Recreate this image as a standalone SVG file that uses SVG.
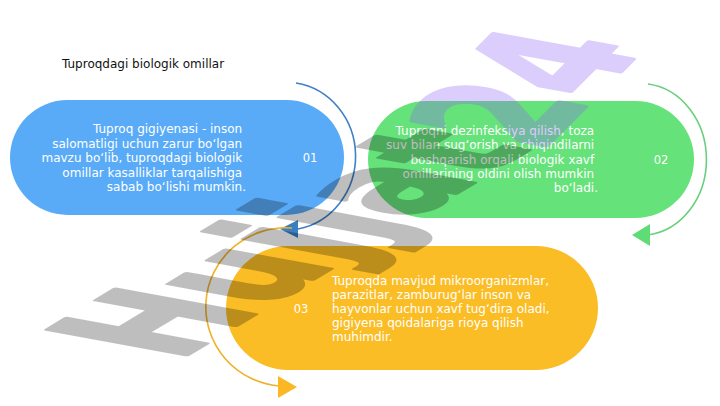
<svg xmlns="http://www.w3.org/2000/svg" width="720" height="406" viewBox="0 0 720 406">
  <defs>
    <style>
      .title { font-family: "DejaVu Sans", sans-serif; font-size: 12px; fill: #111111; }
      .body { font-family: "DejaVu Sans", sans-serif; font-size: 12px; fill: #ffffff; }
      .num { font-family: "DejaVu Sans", sans-serif; font-size: 11.5px; fill: #ffffff; text-anchor: middle; }
      .arc { fill: none; stroke-width: 1.6; }
      .wm { font-family: "DejaVu Sans", sans-serif; font-weight: bold; font-size: 100px; stroke-width: 3; stroke-linejoin: round; }
    </style>
  </defs>
  <rect width="720" height="406" fill="#ffffff"/>

  <g id="title">
    <text class="title" x="62" y="68">Tuproqdagi biologik omillar</text>
  </g>

  <g id="node-01">
    <rect x="10" y="100" width="334" height="115" rx="57.5" fill="#59abf7"/>
    <text class="body" text-anchor="end">
      <tspan x="246" y="133">Tuproq gigiyenasi - inson</tspan>
      <tspan x="246" y="147.5">salomatligi uchun zarur bo‘lgan</tspan>
      <tspan x="246" y="162">mavzu bo‘lib, tuproqdagi biologik</tspan>
      <tspan x="246" y="176.5">omillar kasalliklar tarqalishiga</tspan>
      <tspan x="246" y="191">sabab bo‘lishi mumkin.</tspan>
    </text>
    <text class="num" x="310" y="162">01</text>
  </g>

  <g id="node-02">
    <rect x="368" y="101" width="326" height="117" rx="58.5" fill="#66e27a"/>
    <text class="body" text-anchor="end">
      <tspan x="598" y="135">Tuproqni dezinfeksiya qilish, toza</tspan>
      <tspan x="598" y="149.3">suv bilan sug‘orish va chiqindilarni</tspan>
      <tspan x="598" y="163.6">boshqarish orqali biologik xavf</tspan>
      <tspan x="598" y="177.9">omillarining oldini olish mumkin</tspan>
      <tspan x="598" y="192.2">bo‘ladi.</tspan>
    </text>
    <text class="num" x="661" y="164">02</text>
  </g>

  <g id="node-03">
    <rect x="226" y="246" width="372" height="124" rx="62" fill="#fbbd25"/>
    <text class="body">
      <tspan x="332" y="285">Tuproqda mavjud mikroorganizmlar,</tspan>
      <tspan x="332" y="299">parazitlar, zamburug‘lar inson va</tspan>
      <tspan x="332" y="313">hayvonlar uchun xavf tug‘dira oladi,</tspan>
      <tspan x="332" y="327">gigiyena qoidalariga rioya qilish</tspan>
      <tspan x="332" y="341">muhimdir.</tspan>
    </text>
    <text class="num" x="301" y="313">03</text>
  </g>

  <g id="connectors">
    <path class="arc" stroke="#3f80c6" d="M 296 83 A 70 74 0 0 1 298 229"/>
    <polygon points="280,229 298,220 298,238" fill="#3a7fc1"/>
    <path class="arc" stroke="#6acf7c" d="M 648 84 A 66 76 0 0 1 648 235"/>
    <polygon points="632,235 650,224 650,246" fill="#5fdc76"/>
    <path class="arc" stroke="#f0b02c" d="M 292 228 A 80 79 0 0 0 280 386"/>
    <polygon points="297,387 278,376 278,398" fill="#fbb824"/>
  </g>

  <g id="watermark">
    <g opacity="0.25">
      <text class="wm" fill="#000000" stroke="#000000" transform="matrix(1.05,-0.63,1.91,0.35,177,361)">Hujjat</text>
    </g>
    <g opacity="0.3">
      <text class="wm" fill="#8b5cf6" stroke="#8b5cf6" transform="matrix(0.75,-0.75,1.91,0.35,540,152)">24</text>
    </g>
  </g>
</svg>
